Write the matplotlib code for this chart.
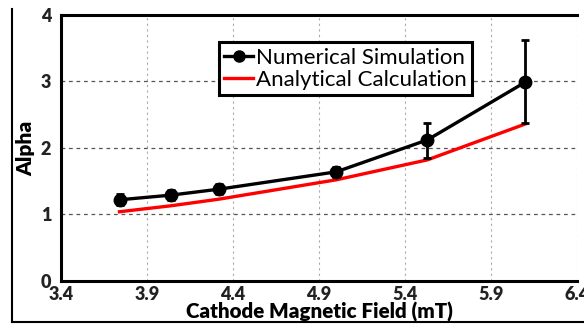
import numpy as np
import matplotlib.pyplot as plt
from matplotlib.lines import Line2D

# cathode field (mT) and alpha values
field = [3.74, 4.04, 4.32, 5.0, 5.53, 6.1]
alpha_num = [1.22, 1.29, 1.38, 1.64, 2.12, 2.99]
err_low = [0.08, 0.08, 0.07, 0.08, 0.27, 0.61]
err_high = [0.08, 0.08, 0.07, 0.08, 0.26, 0.63]
alpha_calc = [1.04, 1.13, 1.23, 1.52, 1.82, 2.36]

xticks = [3.4, 3.9, 4.4, 4.9, 5.4, 5.9, 6.4]
yticks = [0, 1, 2, 3, 4]

plt.rcParams['font.family'] = ['Lato', 'DejaVu Sans']

fig = plt.figure(figsize=(5.84, 3.24), dpi=100)
ax = fig.add_axes([0.1045, 0.133, 0.8835, 0.821])

ax.plot(field, alpha_calc, color='#ff0000', lw=2.4, label='Analytical Calculation', zorder=3)
ax.errorbar(field, alpha_num, yerr=[err_low, err_high], color='black', lw=2.4,
            marker='o', ms=9, elinewidth=2, capsize=3, capthick=2, zorder=4,
            label='Numerical Simulation')

ax.set_xlim(3.4, 6.4)
ax.set_ylim(0, 4)
ax.set_xticks(xticks)
ax.set_yticks(yticks)
ax.set_xticklabels([f'{t:.1f}' for t in xticks], fontweight='heavy', fontsize=13, color='#222222')
ax.set_yticklabels([str(t) for t in yticks], fontweight='heavy', fontsize=13, color='#222222')
ax.tick_params(axis='x', length=0, pad=4)
ax.tick_params(axis='y', length=0, pad=7)

ax.grid(axis='y', ls=(0, (3, 3)), color='#555555', lw=0.9)
ax.grid(axis='x', ls=(0, (2, 3)), color='#aaaaaa', lw=0.8)

for s in ['left', 'bottom', 'top']:
    ax.spines[s].set_linewidth(2.2)
ax.spines['right'].set_visible(False)

ax.set_xlabel('Cathode Magnetic Field (mT)', fontweight='heavy', fontsize=14.8, labelpad=-1)
ax.set_ylabel('Alpha', fontweight='heavy', fontsize=15, labelpad=4)

handles = [Line2D([], [], color='black', lw=2.4, marker='o', ms=8),
           Line2D([], [], color='#ff0000', lw=2.4)]
leg = ax.legend(handles, ['Numerical Simulation', 'Analytical Calculation'],
                loc='upper left', bbox_to_anchor=(0.306, 0.898), fancybox=False,
                edgecolor='black', framealpha=1, fontsize=16, handlelength=1.3,
                handletextpad=0.1, borderpad=0.25, labelspacing=0.1,
                borderaxespad=0)
leg.get_frame().set_linewidth(2.2)

# outer frame from the screenshot
fig.add_artist(Line2D([12 / 584, 12 / 584], [0.005, 1 - 9 / 324], color='black', lw=1.5))
fig.add_artist(Line2D([12 / 584, 1], [0.005, 0.005], color='black', lw=1.5))

fig.savefig('out.png', dpi=100)
